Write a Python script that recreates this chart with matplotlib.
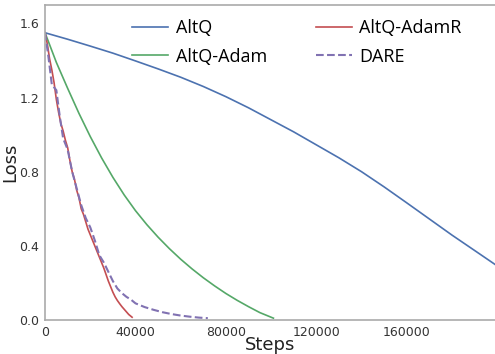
import numpy as np
import matplotlib.pyplot as plt

# AltQ
altq_steps = [0, 10000, 20000, 30000, 40000, 50000, 60000, 70000, 80000, 90000,
              100000, 110000, 120000, 130000, 140000, 150000, 160000, 170000,
              180000, 190000, 199000]
altq_loss = [1.55, 1.515, 1.478, 1.44, 1.398, 1.355, 1.31, 1.26, 1.205, 1.145,
             1.08, 1.015, 0.945, 0.875, 0.80, 0.718, 0.632, 0.545, 0.458, 0.375, 0.30]

# AltQ-Adam
adam_steps = [0, 5000, 10000, 15000, 20000, 25000, 30000, 35000, 40000, 45000,
              50000, 55000, 60000, 65000, 70000, 75000, 80000, 85000, 90000,
              95000, 101000]
adam_loss = [1.55, 1.39, 1.25, 1.115, 0.99, 0.875, 0.77, 0.675, 0.59, 0.515,
             0.447, 0.385, 0.328, 0.276, 0.228, 0.184, 0.143, 0.106, 0.072, 0.04, 0.01]

# AltQ-AdamR
adamr_steps = [0, 1000, 2000, 3000, 4000, 5000, 6000, 7000, 8000, 9000, 10000,
               11000, 12000, 13000, 14000, 15000, 16000, 17000, 18000, 19000,
               20000, 21000, 22000, 23000, 24000, 25000, 26000, 27000, 28000,
               29000, 30000, 31000, 32000, 33000, 34000, 35000, 36000, 37000, 38500]
adamr_loss = [1.55, 1.49, 1.41, 1.35, 1.28, 1.19, 1.12, 1.06, 1.02, 0.97, 0.93,
              0.86, 0.80, 0.76, 0.70, 0.66, 0.60, 0.57, 0.53, 0.49, 0.46,
              0.43, 0.40, 0.37, 0.34, 0.31, 0.28, 0.245, 0.21, 0.18, 0.15,
              0.125, 0.105, 0.088, 0.072, 0.058, 0.044, 0.03, 0.015]

# DARE
dare_steps = [0, 1500, 3000, 5000, 6500, 8000, 10000, 12000, 14000, 16000,
              18000, 20000, 22000, 24000, 26000, 28000, 30000, 32000, 34000,
              36000, 38000, 40000, 44000, 48000, 52000, 56000, 60000, 64000,
              68000, 72000]
dare_loss = [1.55, 1.42, 1.27, 1.24, 1.10, 0.98, 0.92, 0.80, 0.71, 0.62,
             0.55, 0.50, 0.43, 0.35, 0.31, 0.26, 0.21, 0.17, 0.145, 0.125,
             0.11, 0.09, 0.07, 0.055, 0.042, 0.032, 0.024, 0.018, 0.013, 0.01]

blue = '#4C72B0'
green = '#55A868'
red = '#C44E52'
purple = '#8172B2'

fig = plt.figure(figsize=(4.95, 3.54), dpi=100)
ax = fig.add_axes([0.091, 0.096, 0.909, 0.89])

ax.plot(altq_steps, altq_loss, color=blue, lw=1.2, label='AltQ')
ax.plot(adam_steps, adam_loss, color=green, lw=1.2, label='AltQ-Adam')
ax.plot(adamr_steps, adamr_loss, color=red, lw=1.2, label='AltQ-AdamR')
ax.plot(dare_steps, dare_loss, color=purple, lw=1.5, ls='--', label='DARE')

ax.set_xlim(0, 199000)
ax.set_ylim(0, 1.7)
ax.set_xticks([0, 40000, 80000, 120000, 160000])
ax.set_yticks([0.0, 0.4, 0.8, 1.2, 1.6])
ax.set_yticklabels(['0.0', '0.4', '0.8', '1.2', '1.6'])
ax.tick_params(length=0, labelsize=9, colors='#333333', pad=4)

for s in ['left', 'bottom', 'top']:
    ax.spines[s].set_color('#aaaaaa')
    ax.spines[s].set_linewidth(1.2)
ax.spines['right'].set_visible(False)

ax.set_xlabel('Steps', fontsize=13, labelpad=-2, color='#222222')
ax.set_ylabel('Loss', fontsize=13, labelpad=0, color='#222222')

ax.legend(ncol=2, frameon=False, loc='upper left', bbox_to_anchor=(0.17, 0.99),
          prop={'family': 'Open Sans', 'size': 13}, columnspacing=2.7,
          handlelength=2.0, handletextpad=0.4, labelspacing=0.6,
          borderaxespad=0.2)

fig.savefig('out.png', dpi=100)
